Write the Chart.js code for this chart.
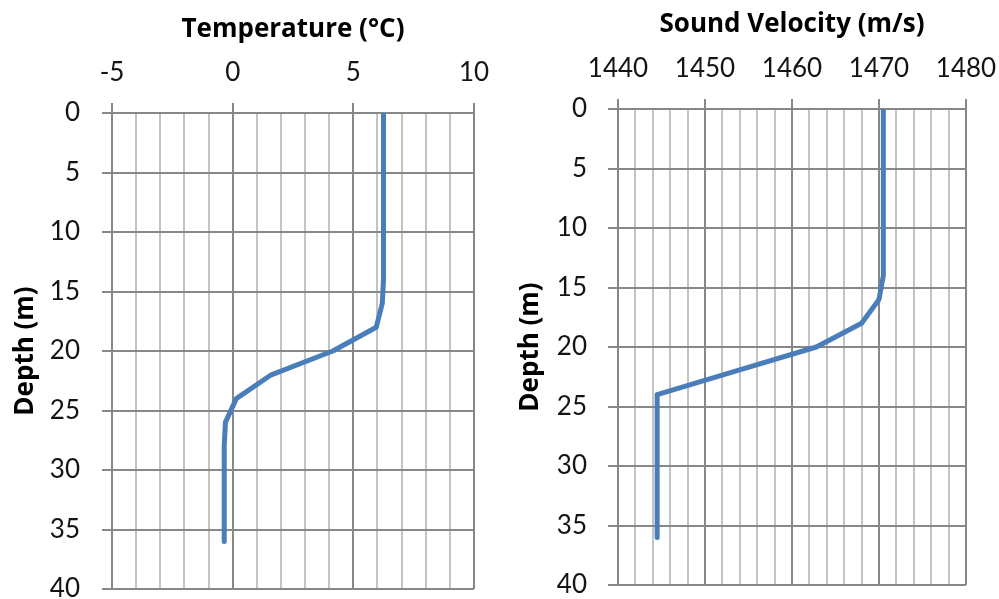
<!DOCTYPE html>
<html>
<head>
<meta charset="utf-8">
<script src="https://cdn.jsdelivr.net/npm/chart.js@4.4.1/dist/chart.umd.min.js"></script>
<style>
  html, body { margin: 0; padding: 0; background: #ffffff; }
  #wrap { position: relative; width: 999px; height: 599px; overflow: hidden; }
  .panel { position: absolute; top: 0; }
</style>
</head>
<body>
<div id="wrap">
  <div class="panel" style="left:0px"><canvas id="tempChart" width="500" height="599"></canvas></div>
  <div class="panel" style="left:500px"><canvas id="velChart" width="499" height="599"></canvas></div>
</div>
<script>
// Profile samples, every 2 m of depth
const depth = [0, 2, 4, 6, 8, 10, 12, 14, 16, 18, 20, 22, 24, 26, 28, 30, 32, 34, 36];
const temperature = [6.25, 6.25, 6.25, 6.25, 6.25, 6.25, 6.25, 6.25, 6.2, 5.95, 4.15, 1.6, 0.15, -0.3, -0.35, -0.35, -0.35, -0.35, -0.35];
const soundVelocity = [1470.5, 1470.5, 1470.5, 1470.5, 1470.5, 1470.5, 1470.5, 1470.5, 1470.0, 1468.0, 1462.8, 1453.6, 1444.5, 1444.5, 1444.5, 1444.5, 1444.5, 1444.5, 1444.5];

// Axis ranges and labelled ticks
const tempTicks = [-5, 0, 5, 10];
const velTicks = [1440, 1450, 1460, 1470, 1480];
const depthTicks = [0, 5, 10, 15, 20, 25, 30, 35, 40];

const TICK_FONT = 'Lato, "Open Sans", "Liberation Sans", sans-serif';
const TITLE_FONT = '"Open Sans", Lato, "Liberation Sans", sans-serif';
const MAJOR = '#878787';
const MINOR = '#c3c3c3';
const LINE = '#4a7ebb';

function profileChart(canvasId, values, opts) {
  const points = depth.map((d, i) => ({ x: values[i], y: d }));
  const xMajor = opts.xTicks;
  return new Chart(document.getElementById(canvasId), {
    type: 'scatter',
    data: {
      datasets: [{
        data: points,
        showLine: true,
        borderColor: LINE,
        borderWidth: 5,
        pointRadius: 0,
        pointHoverRadius: 0,
        tension: 0,
        borderJoinStyle: 'round',
        borderCapStyle: 'round',
        fill: false
      }]
    },
    options: {
      responsive: false,
      animation: false,
      events: [],
      layout: { padding: opts.padding },
      plugins: { legend: { display: false }, tooltip: { enabled: false } },
      scales: {
        x: {
          type: 'linear',
          position: 'top',
          min: xMajor[0],
          max: xMajor[xMajor.length - 1],
          border: { display: false },
          ticks: {
            stepSize: opts.minorStep,
            autoSkip: false,
            maxRotation: 0,
            padding: 15,
            color: '#141414',
            font: { family: TICK_FONT, size: 26 },
            callback: (v) => xMajor.includes(v) ? String(v) : ''
          },
          grid: {
            lineWidth: 2,
            tickLength: 10,
            color: (c) => xMajor.includes(c.tick && c.tick.value) ? MAJOR : MINOR,
            tickColor: (c) => xMajor.includes(c.tick && c.tick.value) ? MAJOR : 'rgba(0,0,0,0)'
          },
          title: {
            display: true,
            text: opts.xTitle,
            color: '#000000',
            font: { family: TITLE_FONT, size: 26, weight: 'bold' },
            padding: { top: opts.xTitleTop, bottom: 0 }
          },
          afterFit: (s) => { s.height = opts.plotTop; s.paddingLeft = 0; s.paddingRight = 0; }
        },
        y: {
          type: 'linear',
          reverse: true,
          min: depthTicks[0],
          max: depthTicks[depthTicks.length - 1],
          border: { display: false },
          ticks: {
            stepSize: 5,
            autoSkip: false,
            padding: opts.yTickPad,
            color: '#141414',
            font: { family: TICK_FONT, size: 26 }
          },
          grid: { lineWidth: 2, tickLength: 10, color: MAJOR, tickColor: MAJOR },
          title: {
            display: true,
            text: 'Depth (m)',
            color: '#000000',
            font: { family: TITLE_FONT, size: 26, weight: 'bold' },
            padding: { top: opts.yTitleTop, bottom: 0 }
          },
          afterFit: (s) => { s.width = opts.plotLeft; s.paddingTop = 0; s.paddingBottom = 0; }
        }
      }
    }
  });
}

profileChart('tempChart', temperature, {
  xTicks: tempTicks, minorStep: 1, xTitle: 'Temperature (°C)',
  plotTop: 113, plotLeft: 112, xTitleTop: 14, yTitleTop: 10, yTickPad: 22,
  padding: { left: 0, top: 0, right: 26, bottom: 10 }
});

profileChart('velChart', soundVelocity, {
  xTicks: velTicks, minorStep: 2, xTitle: 'Sound Velocity (m/s)',
  plotTop: 109, plotLeft: 118, xTitleTop: 9, yTitleTop: 15, yTickPad: 21,
  padding: { left: 0, top: 0, right: 33, bottom: 14 }
});
</script>
</body>
</html>
